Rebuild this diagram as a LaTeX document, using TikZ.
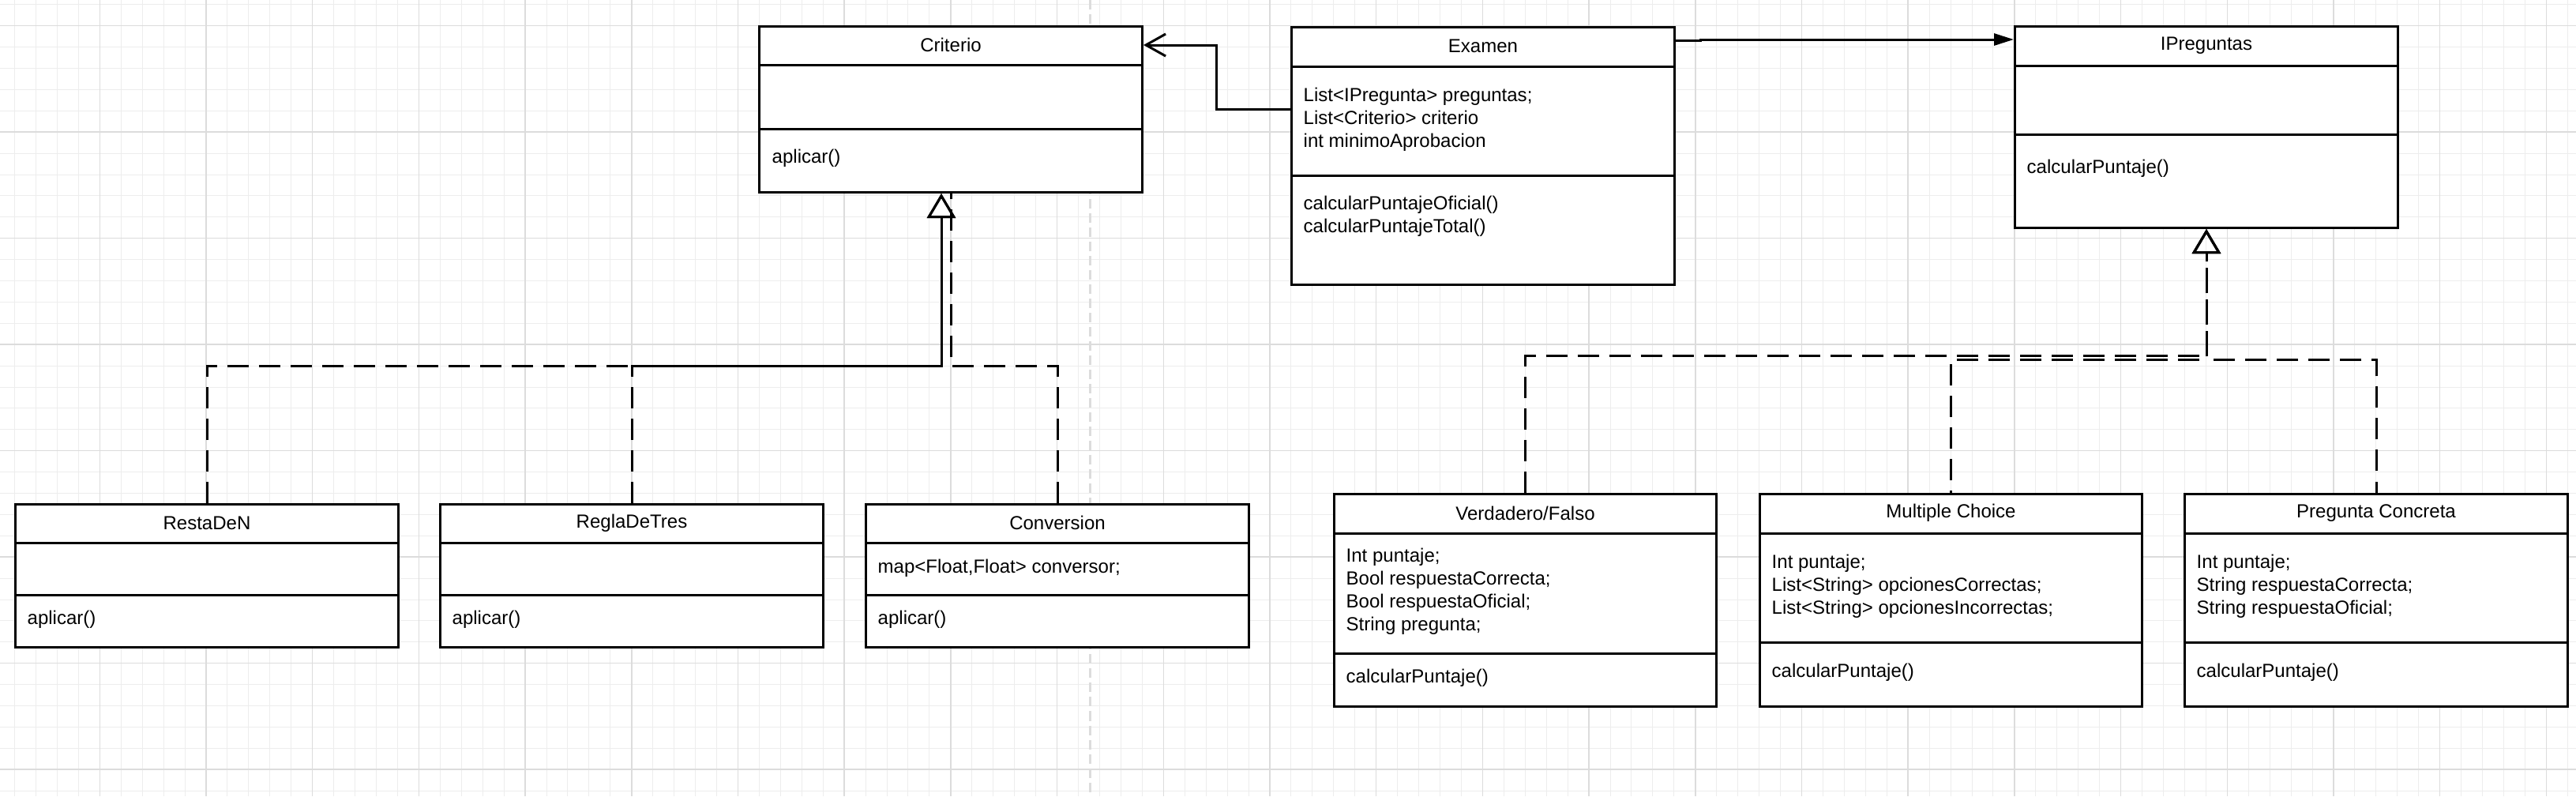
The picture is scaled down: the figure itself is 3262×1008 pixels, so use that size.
\documentclass[tikz,border=0pt]{standalone}
\usepackage{fontspec}
\setmainfont{Liberation Sans}
\usetikzlibrary{arrows.meta,calc}
\definecolor{gridminor}{HTML}{EDEDED}
\definecolor{gridmajor}{HTML}{DCDCDC}
\tikzset{
  classbox/.style={draw, line width=0.03cm, fill=white, anchor=north west, inner sep=0pt},
  classname/.style={font=\fontsize{6.83pt}{8.25pt}\selectfont},
  member/.style={anchor=west, align=left, inner sep=0pt, font=\fontsize{6.83pt}{8.25pt}\selectfont},
  realize/.style={line width=0.03cm, dash pattern=on 0.27cm off 0.13cm,
    -{Triangle[open, length=0.31cm, width=0.36cm]}},
  dashline/.style={line width=0.03cm, dash pattern=on 0.27cm off 0.13cm},
  assoc/.style={line width=0.03cm, -{Straight Barb[length=0.25cm, width=0.28cm]}},
  navig/.style={line width=0.03cm, -{Triangle[length=0.25cm, width=0.15cm]}},
}
% name, left/top, width, header, divider, height, title
\newcommand{\umlclass}[7]{%
  \node[classbox, minimum width=#3*0.01cm, minimum height=#6*0.01cm] (#1) at (#2) {};
  \draw[line width=0.03cm] ($(#1.north west)+(0,#4)$) -- ++(#3,0);
  \draw[line width=0.03cm] ($(#1.north west)+(0,#5)$) -- ++(#3,0);
  \node[classname] (#1-name) at ($(#1.north)+(0,#4/2)$) {#7};
}

\begin{document}
\begin{tikzpicture}[x=0.01cm, y=-0.01cm]
    \useasboundingbox (0,0) rectangle (3262,1008);
    \fill[white] (0,0) rectangle (3262,1008);
    % background grid
    \foreach \i in {0,...,120}
        \draw[gridminor, line width=0.01cm] ({18.5+26.94*\i},0) -- ({18.5+26.94*\i},1008);
    \foreach \j in {0,...,37}
        \draw[gridminor, line width=0.01cm] (0,{5.8+26.9*\j}) -- (3262,{5.8+26.9*\j});
    \foreach \i in {0,...,23}
        \draw[gridmajor, line width=0.015cm] ({126.3+134.7*\i},0) -- ({126.3+134.7*\i},1008);
    \foreach \j in {0,...,7}
        \draw[gridmajor, line width=0.015cm] (0,{32.7+134.5*\j}) -- (3262,{32.7+134.5*\j});
    \draw[gridmajor, line width=0.03cm, dash pattern=on 0.12cm off 0.06cm] (1380.7,0) -- (1380.7,1008);

    % classes
    \umlclass{criterio}{960,32}{485}{50}{131}{210}{Criterio}
    \node[member] (criterio-ops) at (977,200) {aplicar()};

    \umlclass{examen}{1634,33}{485}{51}{189}{326}{Examen}
    \node[member] (examen-attr) at (1650,151.5) {List<IPregunta> preguntas;\\List<Criterio> criterio\\int minimoAprobacion};
    \node[member] (examen-ops) at (1650,274) {calcularPuntajeOficial()\\calcularPuntajeTotal()};

    \umlclass{ipreguntas}{2550,32}{485}{51}{138}{255}{IPreguntas}
    \node[member] (ipreguntas-ops) at (2566,213) {calcularPuntaje()};

    \umlclass{restaden}{18,637}{485}{50.5}{116}{181}{RestaDeN}
    \node[member] (restaden-ops) at (34,784) {aplicar()};
    \umlclass{regladetres}{556,637}{485}{50.5}{116}{181}{ReglaDeTres}
    \node[member] (regladetres-ops) at (572,784) {aplicar()};
    \umlclass{conversion}{1095,637}{485}{50.5}{116}{181}{Conversion}
    \node[member] (conversion-attr) at (1111,719) {map<Float,Float> conversor;};
    \node[member] (conversion-ops) at (1111,784) {aplicar()};

    \umlclass{vf}{1688,624}{484}{51}{203}{269}{Verdadero/Falso}
    \node[member] (vf-attr) at (1704,748.5) {Int puntaje;\\Bool respuestaCorrecta;\\Bool respuestaOficial;\\String pregunta;};
    \node[member] (vf-ops) at (1704,858) {calcularPuntaje()};
    \umlclass{mc}{2227,624}{484}{51}{189}{269}{Multiple Choice}
    \node[member] (mc-attr) at (2243,742) {Int puntaje;\\List<String> opcionesCorrectas;\\List<String> opcionesIncorrectas;};
    \node[member] (mc-ops) at (2243,851) {calcularPuntaje()};
    \umlclass{pc}{2765,624}{485}{51}{189}{269}{Pregunta Concreta}
    \node[member] (pc-attr) at (2781,742) {Int puntaje;\\String respuestaCorrecta;\\String respuestaOficial;};
    \node[member] (pc-ops) at (2781,851) {calcularPuntaje()};

    % associations
    \draw[assoc] ($(examen.north west)+(0,105)$) -- ++(-94,0) |- (criterio.east |- criterio-name);
    \draw[navig] ($(examen.north east)+(0,18)$) -- ++(31,0) |- ($(ipreguntas.north west)+(0,18)$);

    % realizations
    \draw[dashline] (conversion.north) -- ++(0,-174) -| (criterio.south);
    \draw[realize] (restaden.north) -- ++(0,-174) -| ([xshift=-0.12cm]criterio.south);
    \draw[realize] (regladetres.north) -- ++(0,-174) -| ([xshift=-0.12cm]criterio.south);
    \draw[realize] (vf.north) -- ++(0,-174) -| (ipreguntas.south);
    \draw[realize, dash phase=0.24cm] (mc.north) -- ++(0,-169) -| (ipreguntas.south);
    \draw[realize, dash phase=0.125cm] (pc.north) -- ++(0,-169) -| (ipreguntas.south);
\end{tikzpicture}
\end{document}
